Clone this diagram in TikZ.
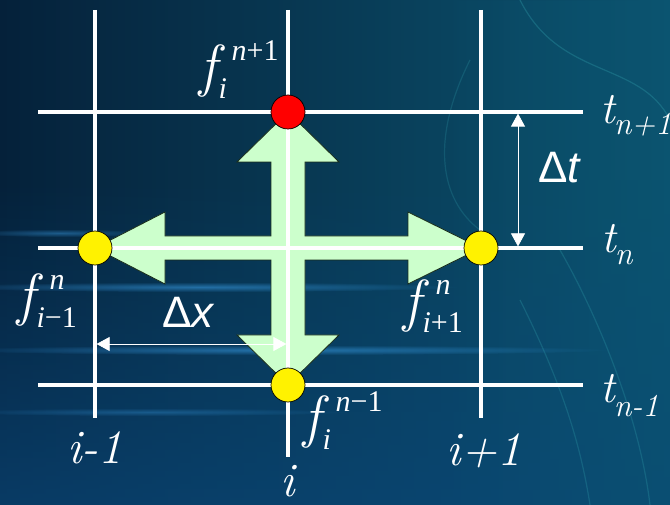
\documentclass[tikz,border=0pt]{standalone}
\usepackage{fontspec}
\newfontfamily\sansf{Liberation Sans}
\newfontfamily\seriff{Liberation Serif}
\usetikzlibrary{arrows.meta,fadings}
\tikzfading[name=streakfade, inner color=transparent!0, outer color=transparent!100]
\tikzfading[name=upfade, top color=transparent!100, bottom color=transparent!0]
\tikzfading[name=rightfade, left color=transparent!100, right color=transparent!0]
\newcommand\fsym[2]{{\fontsize{58}{64}\selectfont\itshape f}\kern2pt\rlap{\raisebox{-13pt}{\seriff\fontsize{30}{34}\selectfont #1}}\kern13pt\raisebox{25pt}{\seriff\fontsize{30}{34}\selectfont #2}}
\definecolor{bgL}{HTML}{05213A}
\definecolor{bgR}{HTML}{0B5470}
\definecolor{bgB}{HTML}{0A4677}
\definecolor{streak}{HTML}{3FA9F5}
\definecolor{swirl}{HTML}{2E9AA8}
\definecolor{arrowfill}{HTML}{CCFFCC}
\definecolor{arrowline}{HTML}{1B2F1B}
\begin{document}
\begin{tikzpicture}[x=1pt,y=-1pt,
  gridline/.style={white, line width=3.2pt},
  dimline/.style={white, line width=0.7pt, {Triangle[width=14pt,length=13pt]}-{Triangle[width=14pt,length=13pt]}},
  gpt/.style={circle, draw=black, line width=0.7pt, minimum size=34pt, inner sep=0pt},
  flab/.style={white, inner sep=0pt, anchor=base west},
  ilab/.style={white, inner sep=0pt, anchor=base, font=\fontsize{48}{56}\selectfont\itshape},
  tlab/.style={white, inner sep=0pt, anchor=base west, font=\fontsize{45}{50}\selectfont\itshape},
  dlab/.style={white, inner sep=0pt, anchor=base west, font=\fontsize{44}{50}\selectfont\sansf},
  streakfill/.style={fill=streak, path fading=streakfade}]
\useasboundingbox (0,0) rectangle (670,505);
% background
\shade[left color=bgL, right color=bgR] (0,0) rectangle (670,505);
\fill[bgB, opacity=0.7, path fading=upfade] (0,180) rectangle (670,505);
\fill[bgR, opacity=0.5, path fading=rightfade] (430,0) rectangle (670,505);
\fill[streakfill, opacity=0.5] (200,287) ellipse (260 and 5);
\fill[streakfill, opacity=0.5] (280,350) ellipse (330 and 5);
\fill[streakfill, opacity=0.4] (60,233) ellipse (90 and 4);
\fill[streakfill, opacity=0.3] (150,412) ellipse (200 and 4);
\draw[swirl, opacity=0.35, line width=1.2pt] (520,0) .. controls (560,80) and (640,60) .. (670,120);
\draw[swirl, opacity=0.3, line width=1.2pt] (560,250) .. controls (600,320) and (640,420) .. (650,505);
\draw[swirl, opacity=0.3, line width=1.2pt] (520,300) .. controls (560,380) and (580,440) .. (590,505);
\draw[swirl, opacity=0.25, line width=1.2pt] (470,60) .. controls (430,140) and (440,200) .. (480,230);
% cross arrow
\filldraw[fill=arrowfill, draw=arrowline, line width=0.8pt]
  (288,112) -- (339,162) -- (305,162) -- (305,236) -- (408,236) -- (408,212)
  -- (481,248) -- (408,284) -- (408,260) -- (305,260) -- (305,335) -- (339,335)
  -- (288,385) -- (237,335) -- (271,335) -- (271,260) -- (165,260) -- (165,284)
  -- (95,248) -- (165,212) -- (165,236) -- (271,236) -- (271,162) -- (237,162) -- cycle;
% grid
\coordinate (v1t) at (95,10);  \coordinate (v1b) at (95,418);
\coordinate (v2t) at (288,10); \coordinate (v2b) at (288,457);
\coordinate (v3t) at (481,10); \coordinate (v3b) at (481,418);
\coordinate (h1l) at (38,112); \coordinate (h1r) at (583,112);
\coordinate (h2l) at (38,248); \coordinate (h2r) at (583,248);
\coordinate (h3l) at (38,385); \coordinate (h3r) at (583,385);
\draw[gridline] (v1t) -- (v1b);
\draw[gridline] (v2t) -- (v2b);
\draw[gridline] (v3t) -- (v3b);
\draw[gridline] (h1l) -- (h1r);
\draw[gridline] (h2l) -- (h2r);
\draw[gridline] (h3l) -- (h3r);
% dimension arrows
\coordinate (dtt) at (518,113.6); \coordinate (dtb) at (518,246.4);
\coordinate (dxl) at (96.6,344);  \coordinate (dxr) at (286.4,344);
\draw[dimline] (dtt) -- (dtb);
\draw[dimline] (dxl) -- (dxr);
% grid points
\node[gpt, fill=red] (pup) at (288,112) {};
\node[gpt, fill=yellow] (pleft) at (95,248) {};
\node[gpt, fill=yellow] (pright) at (481,248) {};
\node[gpt, fill=yellow] (pdown) at (288,385) {};
% labels
\node[flab] (fup) at (199,86) {\fsym{\textit{i}}{\textit{n}+1}};
\node[flab] (fleft) at (17,315) {\fsym{\textit{i}−1}{\textit{n}}};
\node[flab] (fright) at (403,320) {\fsym{\textit{i}+1}{\textit{n}}};
\node[flab] (fdown) at (303,436) {\fsym{\textit{i}}{\textit{n}−1}};
\node[ilab] (im1) at (95,463) {i-1};
\node[ilab] (i0) at (288,496) {i};
\node[ilab] (ip1) at (484,465) {i+1};
\node[tlab] (tn1) at (600,124) {t\kern-1pt\raisebox{-11pt}{\fontsize{32}{36}\selectfont n+1}};
\node[tlab] (tn0) at (601,253) {t\kern-1pt\raisebox{-12pt}{\fontsize{32}{36}\selectfont n}};
\node[tlab] (tnm) at (600,402) {t\kern-1pt\raisebox{-14pt}{\fontsize{32}{36}\selectfont n-1}};
\node[dlab] (dt) at (538,183) {Δ\itshape t};
\node[dlab] (dx) at (162,327) {Δ\itshape x};
\end{tikzpicture}
\end{document}
